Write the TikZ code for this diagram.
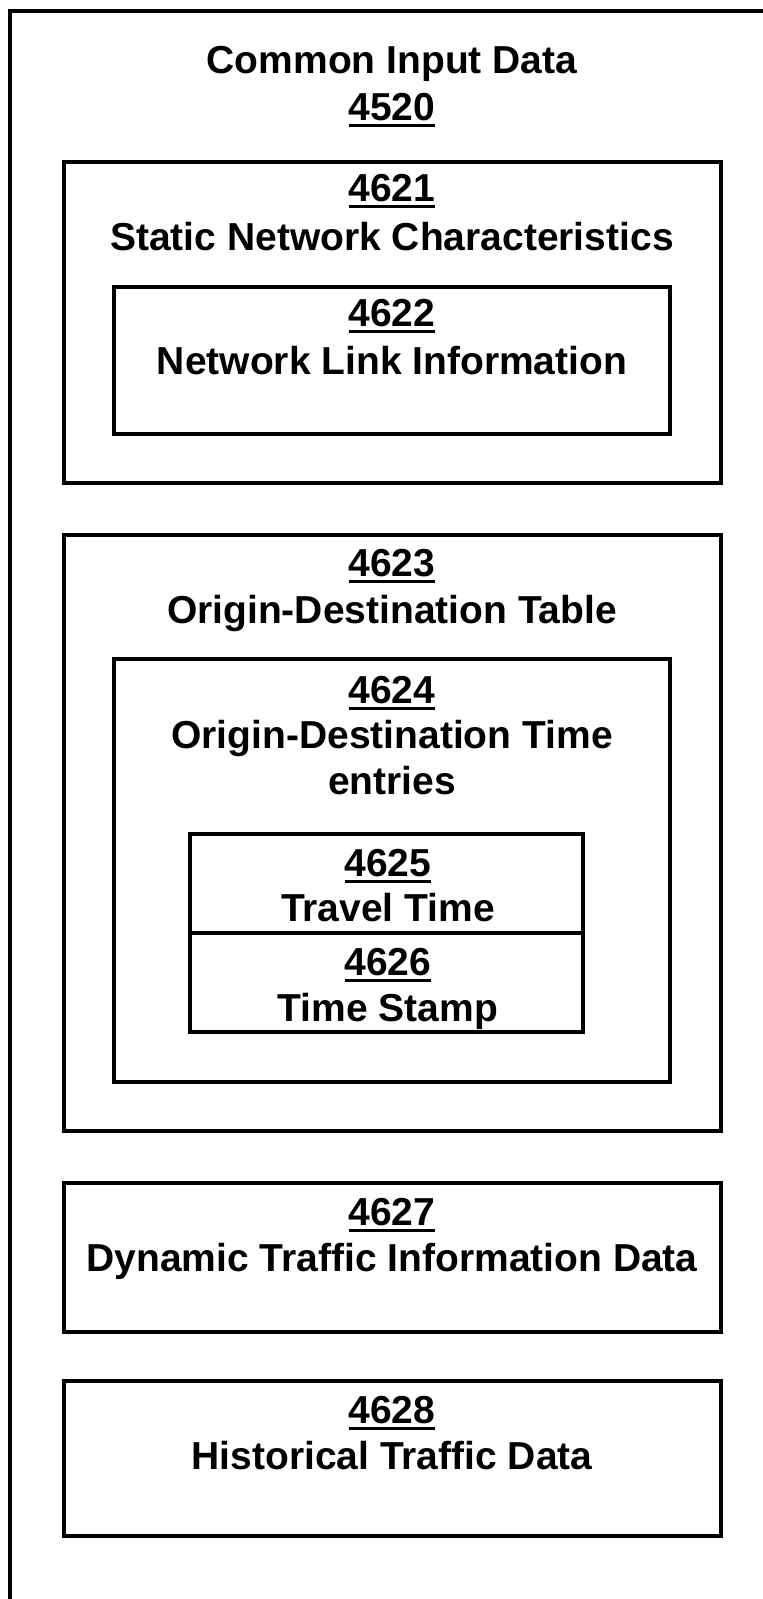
\documentclass[tikz,border=0pt]{standalone}
\usepackage{fontspec}
\setmainfont{Liberation Sans}
\begin{document}
\begin{tikzpicture}[x=1pt,y=-1pt,
  box/.style={draw=black, line width=4.5pt, minimum width=#1, inner sep=0pt, outer sep=0pt},
  lbl/.style={anchor=base, inner sep=0pt, outer sep=0pt, font=\bfseries\fontsize{39}{47}\selectfont},
  ul/.style={line width=3pt}]
\useasboundingbox (0,0) rectangle (763,1599);
% outer frame (open on right and bottom)
\coordinate (ftop) at (770,11);
\coordinate (fcorner) at (10,11);
\coordinate (fbot) at (10,1610);
\draw[line width=4.5pt] (ftop) -- (fcorner) -- (fbot);

% boxes
\node[box=657pt, minimum height=321pt] (b4621) at (392.5,322.5) {};
\node[box=556pt, minimum height=147pt] (b4622) at (392,360.5) {};
\node[box=657pt, minimum height=596pt] (b4623) at (392.5,833) {};
\node[box=556pt, minimum height=423pt] (b4624) at (392,870.5) {};
\node[box=393pt, minimum height=99pt] (b4625) at (386.5,883.5) {};
\node[box=393pt, minimum height=99pt] (b4626) at (386.5,982.5) {};
\node[box=657pt, minimum height=149pt] (b4627) at (392.5,1257.5) {};
\node[box=657pt, minimum height=155pt] (b4628) at (392.5,1458.5) {};

% texts
\node[lbl] (t4520a) at (392,73) {Common Input Data};
\node[lbl] (n4520) at (392,120) {4520};
\node[lbl] (n4621) at (392,201) {4621};
\node[lbl] (t4621) at (392,250) {Static Network Characteristics};
\node[lbl] (n4622) at (392,326) {4622};
\node[lbl] (t4622) at (392,374) {Network Link Information};
\node[lbl] (n4623) at (392,576) {4623};
\node[lbl] (t4623) at (392,623) {Origin-Destination Table};
\node[lbl] (n4624) at (392,703) {4624};
\node[lbl] (t4624a) at (392,748) {Origin-Destination Time};
\node[lbl] (t4624b) at (392,794) {entries};
\node[lbl] (n4625) at (388,876) {4625};
\node[lbl] (t4625) at (388,921) {Travel Time};
\node[lbl] (n4626) at (388,975) {4626};
\node[lbl] (t4626) at (388,1021) {Time Stamp};
\node[lbl] (n4627) at (392,1225) {4627};
\node[lbl] (t4627) at (392,1271) {Dynamic Traffic Information Data};
\node[lbl] (n4628) at (392,1423) {4628};
\node[lbl] (t4628) at (392,1469) {Historical Traffic Data};

% underlines
\foreach \n in {n4520,n4621,n4622,n4623,n4624,n4625,n4626,n4627,n4628}{
  \draw[ul] ([yshift=-5pt]\n.base west) -- ([yshift=-5pt]\n.base east);
}
\end{tikzpicture}
\end{document}
